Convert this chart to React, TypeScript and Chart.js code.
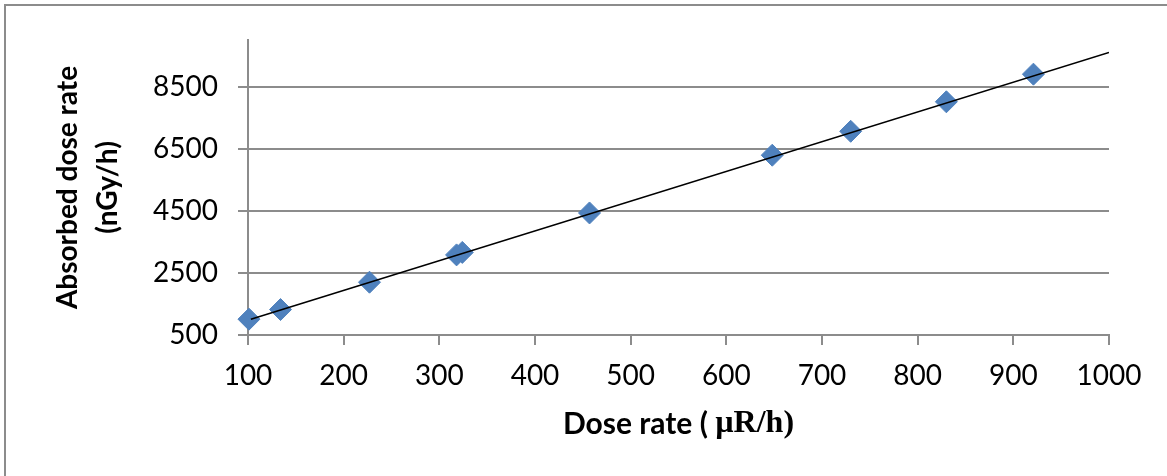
import React, { useEffect, useRef } from "react";
import { Chart, registerables } from "chart.js";

Chart.register(...registerables);

// Measured points: dose rate (µR/h) vs absorbed dose rate (nGy/h)
const doseRateX = [101, 134, 227, 318, 324, 457, 648, 730, 830, 921];
const absorbedY = [1010, 1320, 2200, 3080, 3160, 4430, 6290, 7060, 8010, 8900];

// Linear trendline end points
const trendX = [103, 1000];
const trendY = [1005, 9600];

// Axis ticks
const yTicks = [500, 2500, 4500, 6500, 8500];
const xMin = 100;
const xMax = 1000;
const xStep = 100;
const yMin = 500;
const yMax = 10000;

const yTitleLines = ["Absorbed dose rate", "(nGy/h)"];
const xTitleParts = ["Dose rate ( ", "\u00b5R/h)"];

const GRID = "#8c8c8c";
const MARKER = "#4f81bd";

const xTitlePlugin = {
  id: "xTitleMixed",
  afterDraw(chart: any) {
    const { ctx, chartArea } = chart;
    const sans = "bold 30px Lato";
    const serif = "bold 32px 'Liberation Serif'";
    ctx.save();
    ctx.font = sans;
    const w1 = ctx.measureText(xTitleParts[0]).width;
    ctx.font = serif;
    const w2 = ctx.measureText(xTitleParts[1]).width;
    const cx = (chartArea.left + chartArea.right) / 2;
    const x0 = cx - (w1 + w2) / 2;
    const y = chartArea.bottom + 89;
    ctx.textBaseline = "middle";
    ctx.textAlign = "left";
    ctx.fillStyle = "#000";
    ctx.font = sans;
    ctx.fillText(xTitleParts[0], x0, y);
    ctx.font = serif;
    ctx.fillText(xTitleParts[1], x0 + w1, y);
    ctx.restore();
  },
};

const plain = (v: any) => String(v);

export default function App() {
  const canvasRef = useRef<HTMLCanvasElement | null>(null);

  useEffect(() => {
    if (!canvasRef.current) return;
    const points = doseRateX.map((x, i) => ({ x, y: absorbedY[i] }));
    const trend = trendX.map((x, i) => ({ x, y: trendY[i] }));
    const tickFont = { family: "Lato", size: 28 };

    const chart = new Chart(canvasRef.current, {
      type: "scatter",
      data: {
        datasets: [
          {
            label: "Trendline",
            data: trend,
            showLine: true,
            borderColor: "#000",
            borderWidth: 1.6,
            pointRadius: 0,
            order: 0,
          },
          {
            label: "Measured",
            data: points,
            pointStyle: "rectRot",
            pointRadius: 11,
            pointHoverRadius: 11,
            backgroundColor: MARKER,
            borderColor: MARKER,
            borderWidth: 1,
            clip: false,
            order: 1,
          },
        ],
      },
      options: {
        animation: false,
        responsive: false,
        layout: { padding: { top: 40, right: 58, left: 0, bottom: 0 } },
        plugins: {
          legend: { display: false },
          tooltip: { enabled: false },
          title: { display: false },
        },
        scales: {
          x: {
            type: "linear",
            min: xMin,
            max: xMax,
            ticks: { stepSize: xStep, font: tickFont, color: "#000", padding: 14, maxRotation: 0, callback: plain },
            grid: { drawOnChartArea: false, drawTicks: true, tickLength: 10, color: GRID, lineWidth: 2 },
            border: { color: GRID, width: 2 },
            afterFit: (s: any) => {
              s.height = 141;
            },
          },
          y: {
            type: "linear",
            min: yMin,
            max: yMax,
            afterBuildTicks: (s: any) => {
              s.ticks = yTicks.map((v) => ({ value: v }));
            },
            ticks: { font: tickFont, color: "#000", padding: 20, callback: plain },
            grid: { drawTicks: true, tickLength: 10, color: GRID, lineWidth: 2 },
            border: { color: GRID, width: 2 },
            title: {
              display: true,
              text: yTitleLines,
              color: "#000",
              font: { family: "Lato", size: 28, weight: "bold", lineHeight: 40 / 28 },
              padding: { top: 48, bottom: 0 },
            },
            afterFit: (s: any) => {
              s.width = 248;
            },
          },
        },
      },
      plugins: [xTitlePlugin],
    } as any);

    return () => chart.destroy();
  }, []);

  return (
    <div style={{ position: "fixed", left: 0, top: 0, width: 1167, height: 476, background: "#fff" }}>
      <div
        style={{
          position: "absolute",
          left: 4,
          top: 4,
          right: 0,
          bottom: 0,
          borderLeft: `2px solid ${GRID}`,
          borderTop: `2px solid ${GRID}`,
        }}
      />
      <canvas
        ref={canvasRef}
        width={1167}
        height={476}
        style={{ position: "absolute", left: 0, top: 0, width: 1167, height: 476 }}
      />
    </div>
  );
}
